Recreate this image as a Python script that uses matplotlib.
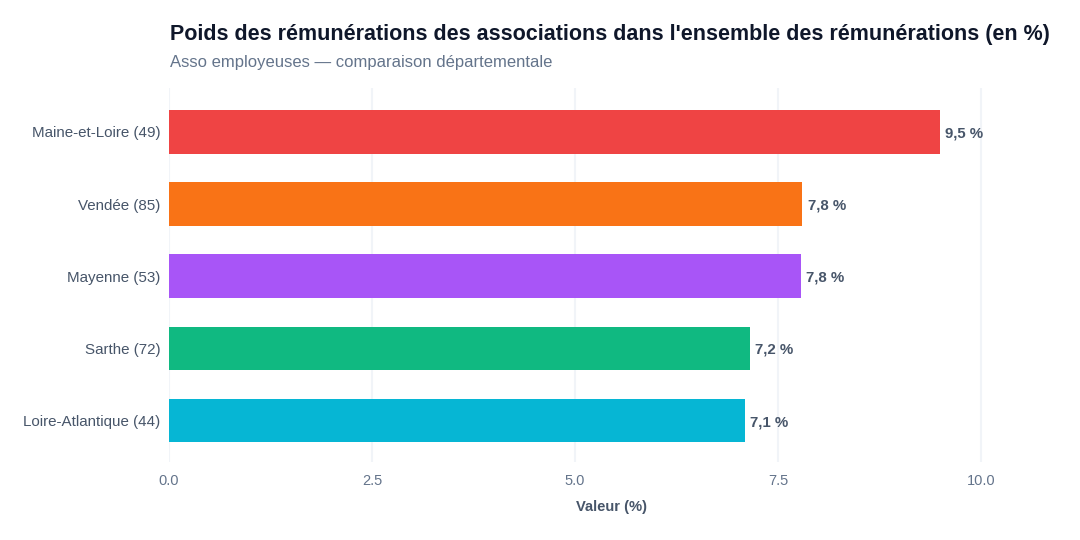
import matplotlib
matplotlib.use("Agg")
import matplotlib.pyplot as plt

categories = ["Maine-et-Loire (49)", "Vendée (85)", "Mayenne (53)", "Sarthe (72)", "Loire-Atlantique (44)"]
values = [9.49, 7.80, 7.78, 7.15, 7.09]
colors = ["#EF4444", "#F97316", "#A855F7", "#10B981", "#06B6D4"]
xticks = [0.0, 2.5, 5.0, 7.5, 10.0]
xtick_labels = ["0.0", "2.5", "5.0", "7.5", "10.0"]

plt.rcParams['font.family'] = ['Liberation Sans', 'DejaVu Sans']

fig = plt.figure(figsize=(10.8, 5.4), dpi=100)
W, H = 1080, 540
left, right, top, bottom = 169, 1055, 88, 462
ax = fig.add_axes([left / W, 1 - bottom / H, (right - left) / W, (bottom - top) / H])

y = list(range(len(categories)))
ax.barh(y, values, height=0.6, color=colors, zorder=3)
for yi, v in zip(y, values):
    ax.text(v + 0.07, yi + 0.025, f"{v:.1f} %".replace(".", ","), va="center", ha="left",
            fontsize=10.8, fontweight="bold", color="#475569", zorder=4)

ax.set_ylim(4.58, -0.61)
ax.set_xlim(0, 10.0 * (right - left) / (981 - left))
ax.set_yticks(y)
ax.set_yticklabels(categories, fontsize=10.9, color="#475569")
ax.set_xticks(xticks)
ax.set_xticklabels(xtick_labels, fontsize=10.5, color="#64748b")
ax.tick_params(axis="y", length=0, pad=6)
ax.tick_params(axis="x", length=0, pad=8.5)
ax.grid(axis="x", color="#f1f4f8", linewidth=1.5, zorder=0)
ax.grid(axis="y", visible=False)
for s in ax.spines.values():
    s.set_visible(False)
ax.set_xlabel("Valeur (%)", fontsize=10.6, fontweight="bold", color="#475569", labelpad=9)

fig.text(170 / W, 1 - 34.5 / H, "Poids des rémunérations des associations dans l'ensemble des rémunérations (en %)",
         fontsize=15.5, fontweight="bold", color="#0f172a", va="center", ha="left")
fig.text(170 / W, 1 - 62 / H, "Asso employeuses — comparaison départementale",
         fontsize=12, color="#64748b", va="center", ha="left")

fig.savefig("out.png", dpi=100, facecolor="white")
